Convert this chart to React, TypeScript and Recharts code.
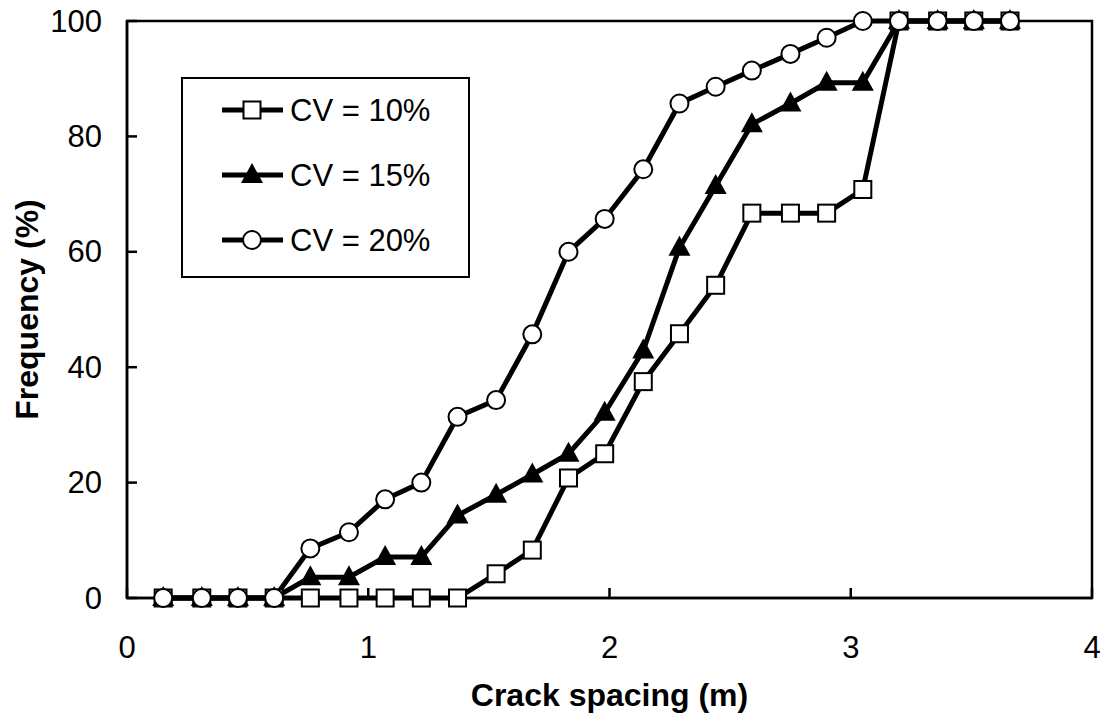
import React from 'react';
import { LineChart, Line, XAxis, YAxis, ReferenceArea, Legend } from 'recharts';

// crack spacing (m) of each class
const spacing = [
  0.15, 0.31, 0.46, 0.61, 0.76, 0.92, 1.07, 1.22, 1.37, 1.53, 1.68, 1.83,
  1.98, 2.14, 2.29, 2.44, 2.59, 2.75, 2.9, 3.05, 3.2, 3.36, 3.51, 3.66,
];

// cumulative frequency (%)
const cv10 = [
  0, 0, 0, 0, 0, 0, 0, 0, 0, 4.2, 8.3, 20.8,
  25, 37.5, 45.8, 54.2, 66.7, 66.7, 66.7, 70.8, 100, 100, 100, 100,
];
const cv15 = [
  0, 0, 0, 0, 3.6, 3.6, 7.1, 7.1, 14.3, 17.9, 21.4, 25,
  32.1, 42.9, 60.7, 71.4, 82.1, 85.7, 89.3, 89.3, 100, 100, 100, 100,
];
const cv20 = [
  0, 0, 0, 0, 8.6, 11.4, 17.1, 20, 31.4, 34.3, 45.7, 60,
  65.7, 74.3, 85.7, 88.6, 91.4, 94.3, 97.1, 100, 100, 100, 100, 100,
];

const seriesNames = ['CV = 10%', 'CV = 15%', 'CV = 20%'];
const xTicks = [0, 1, 2, 3, 4];
const yTicks = [0, 20, 40, 60, 80, 100];

const rows = spacing.map((x, i) => ({ x, cv10: cv10[i], cv15: cv15[i], cv20: cv20[i] }));

const FONT = '"Liberation Sans", Arial, sans-serif';

const SquareDot = ({ cx, cy }: any) => (
  <rect x={cx - 8.5} y={cy - 8.5} width={17} height={17} fill="#fff" stroke="#000" strokeWidth={2} />
);

const TriangleDot = ({ cx, cy }: any) => (
  <polygon points={`${cx},${cy - 12} ${cx + 11},${cy + 8} ${cx - 11},${cy + 8}`} fill="#000" />
);

const CircleDot = ({ cx, cy }: any) => (
  <circle cx={cx} cy={cy} r={9} fill="#fff" stroke="#000" strokeWidth={2} />
);

const markers = [SquareDot, TriangleDot, CircleDot];

const XTick = ({ x, y, payload }: any) => (
  <g>
    <line x1={x} x2={x} y1={y} y2={y - 10} stroke="#000" strokeWidth={2.5} />
    <text x={x} y={y + 49} textAnchor="middle" dominantBaseline="central" fontSize={31} fontFamily={FONT} fill="#000">
      {payload.value}
    </text>
  </g>
);

const YTick = ({ x, y, payload }: any) => (
  <g>
    <line x1={x} x2={x + 10} y1={y} y2={y} stroke="#000" strokeWidth={2.5} />
    <text x={x - 25} y={y} textAnchor="end" dominantBaseline="central" fontSize={31} fontFamily={FONT} fill="#000">
      {payload.value}
    </text>
  </g>
);

const XTitle = ({ viewBox }: any) => (
  <text
    x={viewBox.x + viewBox.width / 2}
    y={viewBox.y + 97}
    textAnchor="middle"
    dominantBaseline="central"
    fontSize={32}
    fontWeight="bold"
    fontFamily={FONT}
    fill="#000"
  >
    Crack spacing (m)
  </text>
);

const YTitle = ({ viewBox }: any) => {
  const cx = 27;
  const cy = viewBox.y + viewBox.height / 2;
  return (
    <text
      x={cx}
      y={cy}
      transform={`rotate(-90, ${cx}, ${cy})`}
      textAnchor="middle"
      dominantBaseline="central"
      fontSize={32}
      fontWeight="bold"
      fontFamily={FONT}
      fill="#000"
    >
      Frequency (%)
    </text>
  );
};

const LegendBox = () => (
  <svg width={289} height={201} style={{ display: 'block' }}>
    <rect x={1} y={1} width={287} height={199} fill="#fff" stroke="#000" strokeWidth={2} />
    {seriesNames.map((name, i) => {
      const Marker = markers[i];
      const cy = 33 + i * 65;
      return (
        <g key={name}>
          <line x1={41} x2={102} y1={cy} y2={cy} stroke="#000" strokeWidth={5} />
          <Marker cx={71} cy={cy} />
          <text x={109} y={cy} dominantBaseline="central" fontSize={31} fontFamily={FONT} fill="#000">
            {name}
          </text>
        </g>
      );
    })}
  </svg>
);

export default function App() {
  return (
    <div style={{ position: 'absolute', left: 0, top: 0, background: '#fff' }}>
      <LineChart width={1107} height={721} data={rows} margin={{ top: 21, right: 15, left: 0, bottom: 0 }}>
        <ReferenceArea x1={0} x2={4} y1={0} y2={100} fill="none" stroke="#000" strokeWidth={2.5} />
        <XAxis
          dataKey="x"
          type="number"
          domain={[0, 4]}
          ticks={xTicks}
          height={123}
          tickSize={0}
          tickMargin={0}
          tickLine={false}
          axisLine={{ stroke: '#000', strokeWidth: 2.5 }}
          tick={<XTick />}
          label={<XTitle />}
        />
        <YAxis
          type="number"
          domain={[0, 100]}
          ticks={yTicks}
          width={127}
          tickSize={0}
          tickMargin={0}
          tickLine={false}
          axisLine={{ stroke: '#000', strokeWidth: 2.5 }}
          tick={<YTick />}
          label={<YTitle />}
        />
        <Legend
          layout="horizontal"
          verticalAlign="middle"
          content={<LegendBox />}
          wrapperStyle={{ left: 181, top: 77, width: 289, height: 201 }}
        />
        <Line
          type="linear"
          dataKey="cv10"
          name={seriesNames[0]}
          stroke="#000"
          strokeWidth={5}
          dot={<SquareDot />}
          activeDot={false}
          isAnimationActive={false}
        />
        <Line
          type="linear"
          dataKey="cv15"
          name={seriesNames[1]}
          stroke="#000"
          strokeWidth={5}
          dot={<TriangleDot />}
          activeDot={false}
          isAnimationActive={false}
        />
        <Line
          type="linear"
          dataKey="cv20"
          name={seriesNames[2]}
          stroke="#000"
          strokeWidth={5}
          dot={<CircleDot />}
          activeDot={false}
          isAnimationActive={false}
        />
      </LineChart>
    </div>
  );
}
